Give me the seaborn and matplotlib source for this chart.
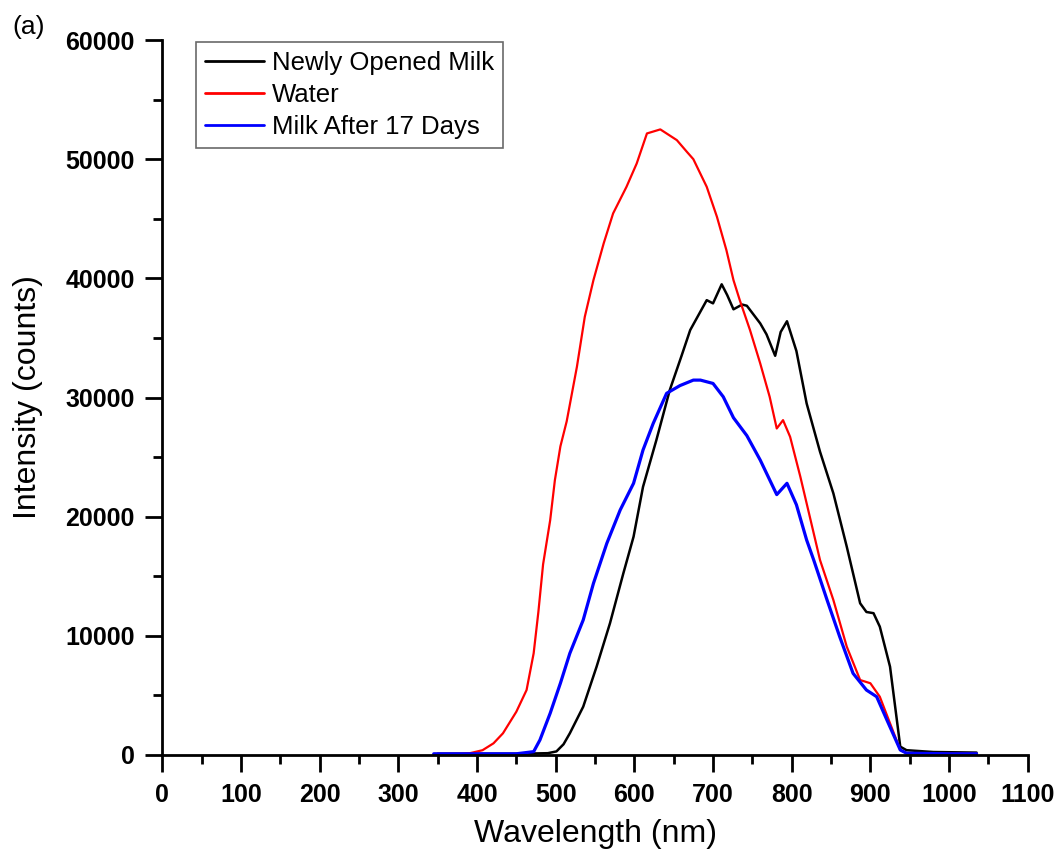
import numpy as np
import pandas as pd
import matplotlib
matplotlib.use("Agg")
import matplotlib.pyplot as plt
from matplotlib.ticker import MultipleLocator
import seaborn as sns

# ---------------- data ----------------
series_names = ["Newly Opened Milk", "Water", "Milk After 17 Days"]
series_colors = ["#000000", "#ff0000", "#0000ff"]

fresh_wl = [350, 400, 450, 490, 501, 510, 518, 535, 552, 569, 586, 599, 611, 628,
            645, 660, 671, 692, 700, 711, 718, 726, 737, 743, 760, 768, 779, 786, 794,
            806, 819, 836, 853, 870, 887, 895, 904, 912, 925, 938, 946, 980, 1035]
fresh_int = [100, 100, 100, 150, 300, 900, 1820, 4050, 7410, 11050, 15240, 18320, 22500, 26430,
             30620, 33500, 35660, 38170, 37900, 39500, 38600, 37400, 37800, 37700, 36220, 35300,
             33500, 35500, 36400, 33900, 29500, 25450, 21950, 17480, 12730, 12000, 11900, 10770,
             7410, 700, 400, 250, 200]

water_wl = [345, 380, 391, 407, 421, 433, 450, 463, 472, 478, 484, 493, 499, 506, 514,
            527, 537, 548, 561, 573, 590, 603, 616, 633, 654, 667, 675, 692, 705, 717,
            726, 734, 747, 760, 772, 781, 789, 798, 811, 823, 836, 853, 870, 887, 900,
            912, 925, 938, 946, 1000, 1035]
water_int = [80, 100, 150, 400, 980, 1820, 3630, 5450, 8530, 12000, 16000, 19700, 23070, 25900, 28000,
             32580, 36770, 39850, 42930, 45450, 47680, 49640, 52160, 52500, 51600, 50600, 50000,
             47680, 45160, 42370, 39850, 38170, 35660, 32860, 30060, 27400, 28100, 26700, 23350,
             20000, 16360, 13000, 9090, 6290, 6020, 4890, 2660, 420, 150, 100, 100]

aged_wl = [345, 400, 450, 472, 480, 493, 506, 518, 535, 548, 565, 582, 599, 611, 624,
           641, 658, 675, 684, 700, 713, 726, 743, 760, 781, 794, 806, 819, 828, 845,
           861, 878, 895, 908, 921, 938, 946, 1000, 1035]
aged_int = [100, 100, 100, 280, 1260, 3500, 6020, 8530, 11330, 14400, 17760, 20560, 22800, 25590,
            27830, 30350, 31000, 31460, 31460, 31180, 30060, 28300, 26800, 24750, 21850, 22800,
            21000, 18040, 16360, 13000, 9930, 6850, 5450, 4890, 2940, 420, 150, 100, 100]

x_ticks = list(range(0, 1101, 100))
y_ticks = list(range(0, 60001, 10000))

# ---------------- build table ----------------
frames = []
for name, wl, it in zip(series_names, [fresh_wl, water_wl, aged_wl],
                        [fresh_int, water_int, aged_int]):
    frames.append(pd.DataFrame({"Wavelength": wl, "Intensity": it, "Series": name}))
df = pd.concat(frames, ignore_index=True)

# ---------------- style ----------------
sns.set_theme(style="ticks")
plt.rcParams["font.family"] = ["Liberation Sans", "DejaVu Sans"]
plt.rcParams["text.color"] = "black"
plt.rcParams["axes.labelcolor"] = "black"
plt.rcParams["xtick.color"] = "black"
plt.rcParams["ytick.color"] = "black"

fig = plt.figure(figsize=(10.63, 8.59), dpi=100)
ax = fig.add_axes([0.1527, 0.1211, 0.8141, 0.8323])

sns.lineplot(data=df, x="Wavelength", y="Intensity", hue="Series",
             hue_order=series_names, palette=series_colors, linewidth=1.7,
             estimator=None, sort=False, ax=ax)
for ln, lw in zip(ax.lines[:3], [1.8, 1.6, 2.3]):
    ln.set_linewidth(lw)

ax.set_xlim(0, 1100)
ax.set_ylim(0, 60000)
ax.set_xticks(x_ticks)
ax.set_yticks(y_ticks)
ax.xaxis.set_minor_locator(MultipleLocator(50))
ax.yaxis.set_minor_locator(MultipleLocator(5000))

for s in ["top", "right"]:
    ax.spines[s].set_visible(False)
for s in ["left", "bottom"]:
    ax.spines[s].set_linewidth(2)
    ax.spines[s].set_color("black")

ax.tick_params(which="major", direction="out", length=12, width=2, color="black",
               labelcolor="black", labelsize=18, pad=8)
ax.tick_params(which="minor", direction="out", length=6.5, width=2, color="black")
for lab in ax.get_xticklabels() + ax.get_yticklabels():
    lab.set_fontweight("bold")

ax.set_xlabel("Wavelength (nm)", fontsize=23, labelpad=9, color="black")
ax.set_ylabel("Intensity (counts)", fontsize=23, labelpad=16, color="black")

handles, labels = ax.get_legend_handles_labels()
leg = ax.legend(handles, labels, loc="upper left", bbox_to_anchor=(0.039, 0.997),
                borderaxespad=0, frameon=True, fancybox=False, fontsize=18.5,
                handlelength=2.3, handletextpad=0.3, labelspacing=0.3, borderpad=0.35)
leg.get_frame().set_edgecolor("#444444")
leg.get_frame().set_linewidth(1.2)
for lh in leg.get_lines():
    lh.set_linewidth(2)
for t in leg.get_texts():
    t.set_color("black")

fig.text(0.012, 0.968, "(a)", fontsize=19, ha="left", va="center", color="black")

fig.savefig("out.png", dpi=100)
